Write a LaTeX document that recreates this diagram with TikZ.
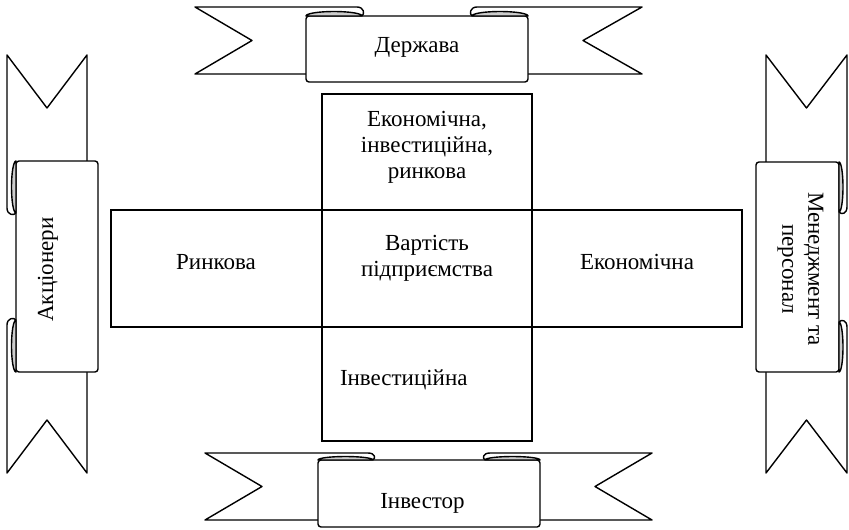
\documentclass[tikz,border=0pt]{standalone}
\usepackage{fontspec}
\setmainfont{Liberation Serif}
\tikzset{
  rbtail/.style={draw, fill=white, line width=1.4pt, line join=round},
  rbband/.style={draw, fill=white, line width=1.4pt, rounded corners=3pt},
  rbdome/.style={draw, fill=gray!40, line width=1.4pt, line join=round},
  boxnode/.style={draw, line width=1.4pt, inner sep=0pt, outer sep=0pt},
  lbl/.style={font=\fontsize{23}{26}\selectfont, inner sep=0pt, outer sep=0pt},
}
\newcommand\drawribbon{%
  \pgfmathsetmacro\rH{0.5*(\rS-\rT)}%
  \pgfmathsetmacro\rG{ifthenelse(\rBt>\rT,1,-1)}%
  \pgfmathsetmacro\rN{(\rT+\rBt)/2}%
  \pgfmathsetmacro\rL{\rA+\rW}%
  \pgfmathsetmacro\rR{\rB-\rW}%
  \pgfmathsetmacro\rSa{\rS-2*\rG}%
  \pgfmathsetmacro\rSh{\rS-\rH}%
  \pgfmathsetmacro\rSk{\rS-0.55*\rH}%
  \path[rbtail] ({\rL-5},\rT) -- (\rTL,\rT) -- (\rNL,\rN) -- (\rTL,\rBt) -- (\rL,\rBt) -- (\rL,\rS)
     .. controls ({\rL+3},\rSa) and ({\rL+2},\rT) .. ({\rL-5},\rT) -- cycle;
  \path[rbtail] ({\rR+5},\rT) -- (\rTR,\rT) -- (\rNR,\rN) -- (\rTR,\rBt) -- (\rR,\rBt) -- (\rR,\rS)
     .. controls ({\rR-3},\rSa) and ({\rR-2},\rT) .. ({\rR+5},\rT) -- cycle;
  \path[rbband] (\rA,\rS) -- (\rA,\rBo) -- (\rB,\rBo) -- (\rB,\rS) -- cycle;
  \path[rbdome] (\rA,\rS) .. controls (\rA,\rSk) and ({\rA+0.225*\rW},\rSh) .. ({\rA+0.5*\rW},\rSh)
     .. controls ({\rA+0.775*\rW},\rSh) and (\rL,\rSk) .. (\rL,\rS) -- cycle;
  \path[rbdome] (\rR,\rS) .. controls (\rR,\rSk) and ({\rR+0.225*\rW},\rSh) .. ({\rR+0.5*\rW},\rSh)
     .. controls ({\rR+0.775*\rW},\rSh) and (\rB,\rSk) .. (\rB,\rS) -- cycle;
}
\begin{document}
\begin{tikzpicture}[x=1pt,y=-1pt]
\useasboundingbox (0,0) rectangle (849,530);
% top ribbon
\begin{scope}
\def\rTL{195}\def\rNL{252}\def\rA{306}\def\rB{528}\def\rNR{583}\def\rTR{642}
\def\rT{7}\def\rS{16}\def\rBt{74}\def\rBo{82}\def\rW{56}
\drawribbon
\end{scope}
% bottom ribbon
\begin{scope}
\def\rTL{205}\def\rNL{262}\def\rA{318}\def\rB{540}\def\rNR{595}\def\rTR{652}
\def\rT{453}\def\rS{460}\def\rBt{520}\def\rBo{527}\def\rW{55}
\drawribbon
\end{scope}
% left ribbon
\begin{scope}[cm={0,-1,-1,0,(0,0)}]
\def\rTL{55}\def\rNL{108}\def\rA{161}\def\rB{372}\def\rNR{420}\def\rTR{473}
\def\rT{7}\def\rS{16}\def\rBt{87}\def\rBo{98}\def\rW{52}
\drawribbon
\end{scope}
% right ribbon
\begin{scope}[cm={0,-1,-1,0,(0,0)}]
\def\rTL{55}\def\rNL{108}\def\rA{162}\def\rB{372}\def\rNR{420}\def\rTR{473}
\def\rT{847}\def\rS{839}\def\rBt{766}\def\rBo{756}\def\rW{50}
\drawribbon
\end{scope}
% central cross
\node[boxnode, minimum width=210pt, minimum height=347pt] (vrect) at (427,267.5) {};
\node[boxnode, minimum width=631pt, minimum height=117pt] (hrect) at (426.5,268.5) {};
% texts
\node[lbl, align=center] (topt) at (427,147) {Економічна,\\інвестиційна,\\ринкова};
\node[lbl, align=center] (value) at (427,258) {Вартість\\підприємства};
\node[lbl, anchor=base] (market) at (216,269) {Ринкова};
\node[lbl, anchor=base] (econ) at (637,269) {Економічна};
\node[lbl, anchor=base west] (invest) at (340,385) {Інвестиційна};
\node[lbl, anchor=base] (state) at (417,52) {Держава};
\node[lbl, anchor=base] (investor) at (422.5,508) {Інвестор};
\node[lbl, anchor=base, rotate=90] (share) at (53,269.5) {Акціонери};
\node[lbl, align=center, rotate=-90] (mgmt) at (800.5,269) {Менеджмент та\\персонал};
\end{tikzpicture}
\end{document}
